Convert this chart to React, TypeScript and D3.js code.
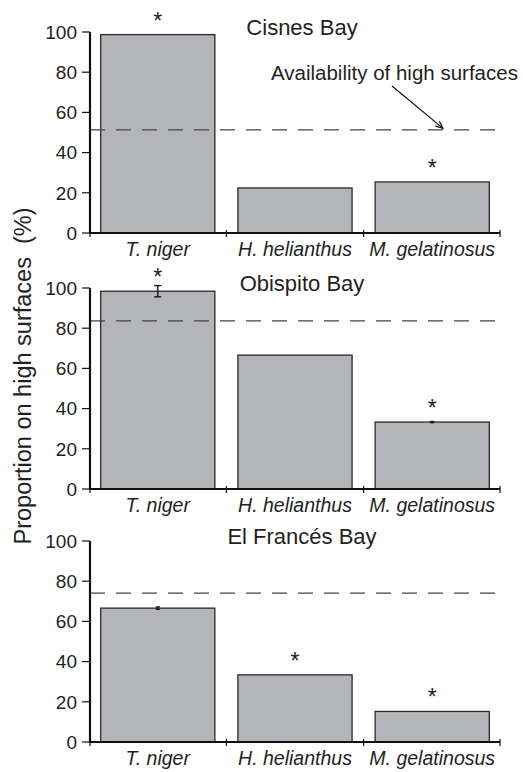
import React from "react";
import * as d3 from "d3";

const species = ["T. niger", "H. helianthus", "M. gelatinosus"];
const bays = ["Cisnes Bay", "Obispito Bay", "El Francés Bay"];
const cisnesValues = [98.7, 22.4, 25.4];
const obispitoValues = [98.4, 66.6, 33.3];
const francesValues = [66.6, 33.4, 15.2];
const cisnesErrors = [0, 0, 0];
const obispitoErrors = [2.8, 0, 0.3];
const francesErrors = [0.6, 0, 0];
const cisnesStars = [true, false, true];
const obispitoStars = [true, false, true];
const francesStars = [false, true, true];
const availability = [51.3, 83.6, 74.1];
const yTicks = [0, 20, 40, 60, 80, 100];
const yLabel = "Proportion on high surfaces\u00a0\u00a0(%)";
const annotationText = "Availability of high surfaces";

const W = 523;
const H = 772;
const FONT = "'Liberation Sans', Arial, Helvetica, sans-serif";
const TEXT = "#231f20";

const panelValues = [cisnesValues, obispitoValues, francesValues];
const panelErrors = [cisnesErrors, obispitoErrors, francesErrors];
const panelStars = [cisnesStars, obispitoStars, francesStars];
const panelBottoms = [233, 489, 742];
const panelHeight = 201;

const x = d3
  .scaleBand<string>()
  .domain(species)
  .range([90, 500])
  .paddingInner(0.168)
  .paddingOuter(0.078);

function Panel({ idx }: { idx: number }) {
  const y0 = panelBottoms[idx];
  const y = d3.scaleLinear().domain([0, 100]).range([y0, y0 - panelHeight]);
  const values = panelValues[idx];
  const errs = panelErrors[idx];
  const stars = panelStars[idx];
  const [xl, xr] = x.range();
  const step = x.step();
  const boundaries = species.map((s) => (x(s) as number) - (x.paddingInner() * step) / 2);
  const xTicks = [xl, ...boundaries.slice(1), xr];
  return (
    <g>
      {species.map((s, i) => (
        <rect
          key={s}
          x={x(s)}
          y={y(values[i])}
          width={x.bandwidth()}
          height={y0 - y(values[i])}
          fill="#b4b5b9"
          stroke="#2a2a2a"
          strokeWidth={1.3}
        />
      ))}
      {species.map((s, i) => {
        if (!errs[i]) return null;
        const cx = (x(s) as number) + x.bandwidth() / 2;
        const top = y(values[i] + errs[i]);
        const bot = y(values[i] - errs[i]);
        const cw = errs[i] > 1 ? 3.5 : 2;
        return (
          <g key={"e" + s} stroke="#1a1a1a" strokeWidth={1.4}>
            <line x1={cx} x2={cx} y1={top} y2={bot} />
            <line x1={cx - cw} x2={cx + cw} y1={top} y2={top} />
            <line x1={cx - cw} x2={cx + cw} y1={bot} y2={bot} />
          </g>
        );
      })}
      {species.map((s, i) =>
        stars[i] ? (
          <text
            key={"s" + s}
            x={(x(s) as number) + x.bandwidth() / 2}
            y={y(values[i]) - 6}
            textAnchor="middle"
            fontSize={23}
            fill={TEXT}
            fontFamily={FONT}
          >
            *
          </text>
        ) : null
      )}
      <line
        x1={xl}
        x2={xr + 5}
        y1={y(availability[idx])}
        y2={y(availability[idx])}
        stroke="#444"
        strokeWidth={1.3}
        strokeDasharray="15,11"
      />
      {/* y axis */}
      <line x1={xl} x2={xl} y1={y(100)} y2={y0 + 1} stroke="#111" strokeWidth={2.2} />
      {yTicks.map((t) => (
        <g key={"t" + t}>
          <line x1={xl - 8} x2={xl} y1={y(t)} y2={y(t)} stroke="#111" strokeWidth={1.2} />
          <text
            x={xl - 13}
            y={y(t)}
            dy="0.36em"
            textAnchor="end"
            fontSize={19}
            fill={TEXT}
            fontFamily={FONT}
          >
            {t}
          </text>
        </g>
      ))}
      {/* x axis */}
      <line x1={xl} x2={xr} y1={y0} y2={y0} stroke="#111" strokeWidth={2.2} />
      {xTicks.map((t, i) => (
        <line key={"xt" + i} x1={t} x2={t} y1={y0 - 3} y2={y0 + 4} stroke="#111" strokeWidth={1.2} />
      ))}
      {species.map((s) => (
        <text
          key={"l" + s}
          x={(x(s) as number) + x.bandwidth() / 2}
          y={y0 + 23}
          textAnchor="middle"
          fontSize={19.5}
          fontStyle="italic"
          fill={TEXT}
          fontFamily={FONT}
        >
          {s}
        </text>
      ))}
      <text x={302} y={y(100) + 3} textAnchor="middle" fontSize={22} fill={TEXT} fontFamily={FONT}>
        {bays[idx]}
      </text>
    </g>
  );
}

export default function App() {
  const y1 = d3.scaleLinear().domain([0, 100]).range([panelBottoms[0], panelBottoms[0] - panelHeight]);
  const tipY = y1(availability[0]) - 1.5;
  const tipX = 443;
  const startX = 392;
  const startY = 86;
  const ang = Math.atan2(tipY - startY, tipX - startX);
  const ah = 8;
  const spread = 0.4;
  const a1 = [tipX - ah * Math.cos(ang - spread), tipY - ah * Math.sin(ang - spread)];
  const a2 = [tipX - ah * Math.cos(ang + spread), tipY - ah * Math.sin(ang + spread)];
  return (
    <div style={{ position: "absolute", left: 0, top: 0 }}>
      <svg width={W} height={H} style={{ display: "block", background: "#fff" }}>
        {[0, 1, 2].map((i) => (
          <Panel key={i} idx={i} />
        ))}
        <text x={271} y={80} fontSize={20.5} fill={TEXT} fontFamily={FONT}>
          {annotationText}
        </text>
        <g stroke="#111" strokeWidth={1.2} fill="none">
          <line x1={startX} y1={startY} x2={tipX} y2={tipY} />
          <polyline points={`${a1[0]},${a1[1]} ${tipX},${tipY} ${a2[0]},${a2[1]}`} />
        </g>
        <text
          transform={`translate(31,376) rotate(-90)`}
          textAnchor="middle"
          fontSize={23.5}
          fill={TEXT}
          fontFamily={FONT}
        >
          {yLabel}
        </text>
      </svg>
    </div>
  );
}
